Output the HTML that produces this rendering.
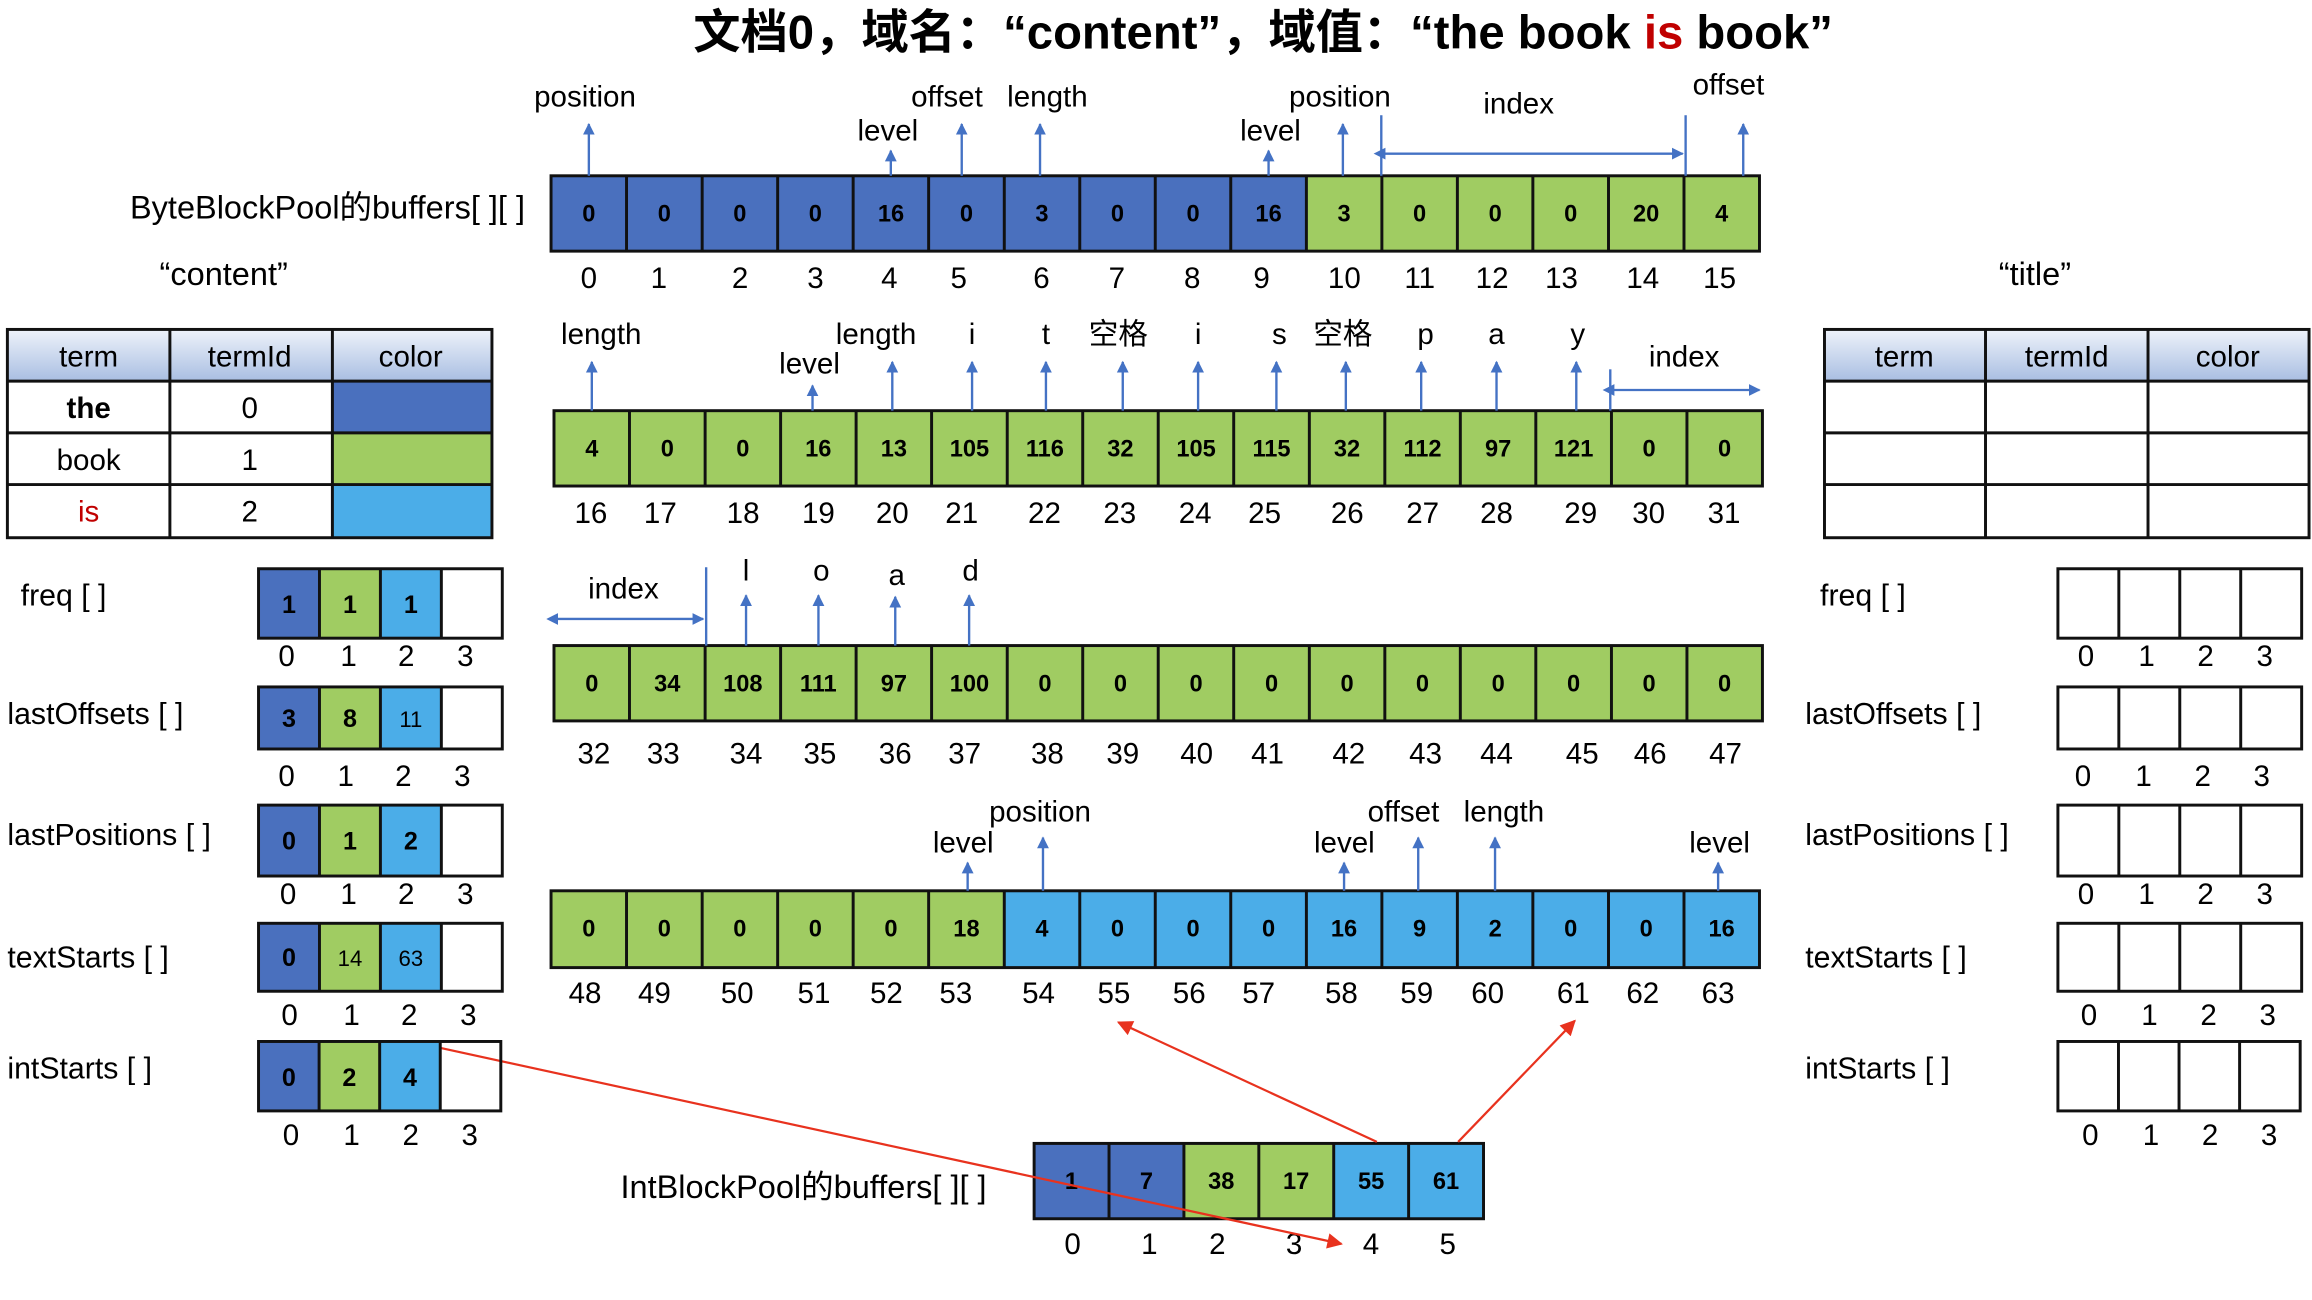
<!DOCTYPE html>
<html><head><meta charset="utf-8">
<style>
html,body{margin:0;padding:0;background:#fff;}
svg{display:block;}
text{font-family:"Liberation Sans","Noto Sans CJK SC",sans-serif;fill:#000;}
.v{font-size:16px;font-weight:bold;text-anchor:middle;}
.vb{font-size:17px;font-weight:bold;text-anchor:middle;}
.i{font-size:20px;text-anchor:middle;}
.l{font-size:20.5px;}
.lb2{font-size:22px;}
.c{font-size:20px;text-anchor:middle;}
.blue{fill:#4A70BE}.green{fill:#A0CC62}.lb{fill:#4BADE8}
.ar{stroke:#4472C4;stroke-width:1.6;fill:none;}
.rl{stroke:#E8321E;stroke-width:1.5;fill:none;}
.cell{fill:none;stroke:#111;stroke-width:2;}
</style></head>
<body>
<svg width="2312" height="1300" viewBox="0 0 1565 880" preserveAspectRatio="none" xmlns="http://www.w3.org/2000/svg">
<defs>
<marker id="ab" viewBox="0 0 10 10" refX="9" refY="5" markerWidth="5" markerHeight="6" orient="auto" markerUnits="strokeWidth"><path d="M0 0L10 5L0 10z" fill="#4472C4"/></marker>
<marker id="as" viewBox="0 0 10 10" refX="1" refY="5" markerWidth="5" markerHeight="6" orient="auto-start-reverse" markerUnits="strokeWidth"><path d="M0 0L10 5L0 10z" fill="#4472C4"/></marker>
<marker id="ar" viewBox="0 0 10 10" refX="9" refY="5" markerWidth="8" markerHeight="7" orient="auto" markerUnits="strokeWidth"><path d="M0 0L10 5L0 10z" fill="#E8321E"/></marker>
<linearGradient id="hg" x1="0" y1="0" x2="0" y2="1"><stop offset="0" stop-color="#EEF2FA"/><stop offset="1" stop-color="#A9BEE2"/></linearGradient>
</defs>

<!-- Title -->
<text x="855" y="33" style="font-size:32px;font-weight:bold;text-anchor:middle">文档0，域名：“content”，域值：“the book <tspan fill="#C00000" style="fill:#C00000">is</tspan> book”</text>

<text class="lb2" x="88" y="148">ByteBlockPool的buffers[ ][ ]</text>
<text x="108" y="193" style="font-size:22px">“content”</text>
<text x="1353" y="193" style="font-size:22px">“title”</text>

<!-- Row 1 -->
<g transform="translate(373,119)">
<rect class="blue" x="0" y="0" width="511.25" height="51"/>
<rect class="green" x="511.25" y="0" width="306.75" height="51"/>
<rect class="cell" x="0" y="0" width="818" height="51"/>
<path class="cell" d="M51.1 0V51M102.3 0V51M153.4 0V51M204.5 0V51M255.6 0V51M306.8 0V51M357.9 0V51M409 0V51M460.1 0V51M511.3 0V51M562.4 0V51M613.5 0V51M664.6 0V51M715.8 0V51M766.9 0V51"/>
<text class="v" x="25.6" y="31">0</text><text class="v" x="76.7" y="31">0</text><text class="v" x="127.8" y="31">0</text><text class="v" x="178.9" y="31">0</text><text class="v" x="230.1" y="31">16</text><text class="v" x="281.2" y="31">0</text><text class="v" x="332.3" y="31">3</text><text class="v" x="383.4" y="31">0</text><text class="v" x="434.6" y="31">0</text><text class="v" x="485.7" y="31">16</text><text class="v" x="536.8" y="31">3</text><text class="v" x="587.9" y="31">0</text><text class="v" x="639.1" y="31">0</text><text class="v" x="690.2" y="31">0</text><text class="v" x="741.3" y="31">20</text><text class="v" x="792.4" y="31">4</text>
<text class="i" x="25.6" y="76">0</text><text class="i" x="73" y="76">1</text><text class="i" x="128" y="76">2</text><text class="i" x="179" y="76">3</text><text class="i" x="229" y="76">4</text><text class="i" x="276" y="76">5</text><text class="i" x="332" y="76">6</text><text class="i" x="383" y="76">7</text><text class="i" x="434" y="76">8</text><text class="i" x="481" y="76">9</text><text class="i" x="537" y="76">10</text><text class="i" x="588" y="76">11</text><text class="i" x="637" y="76">12</text><text class="i" x="684" y="76">13</text><text class="i" x="739" y="76">14</text><text class="i" x="791" y="76">15</text>
</g>
<line class="ar" x1="398.6" y1="119" x2="398.6" y2="84" marker-end="url(#ab)"/>
<line class="ar" x1="603" y1="119" x2="603" y2="102" marker-end="url(#ab)"/>
<line class="ar" x1="651" y1="119" x2="651" y2="84" marker-end="url(#ab)"/>
<line class="ar" x1="704" y1="119" x2="704" y2="84" marker-end="url(#ab)"/>
<line class="ar" x1="858.7" y1="119" x2="858.7" y2="102" marker-end="url(#ab)"/>
<line class="ar" x1="909" y1="119" x2="909" y2="84" marker-end="url(#ab)"/>
<line class="ar" x1="935" y1="78" x2="935" y2="119"/>
<line class="ar" x1="1141" y1="78" x2="1141" y2="119"/>
<line class="ar" x1="937" y1="104" x2="1139" y2="104" marker-start="url(#as)" marker-end="url(#ab)"/>
<line class="ar" x1="1180" y1="119" x2="1180" y2="84" marker-end="url(#ab)"/>
<text class="c" x="396" y="72">position</text>
<text class="c" x="601" y="95">level</text>
<text class="c" x="641" y="72">offset</text>
<text class="c" x="709" y="72">length</text>
<text class="c" x="860" y="95">level</text>
<text class="c" x="907" y="72">position</text>
<text class="c" x="1028" y="77">index</text>
<text class="c" x="1170" y="64">offset</text>

<!-- Row 2 -->
<g transform="translate(375,278)">
<rect class="green" x="0" y="0" width="818" height="51"/>
<rect class="cell" x="0" y="0" width="818" height="51"/>
<path class="cell" d="M51.1 0V51M102.3 0V51M153.4 0V51M204.5 0V51M255.6 0V51M306.8 0V51M357.9 0V51M409 0V51M460.1 0V51M511.3 0V51M562.4 0V51M613.5 0V51M664.6 0V51M715.8 0V51M766.9 0V51"/>
<text class="v" x="25.6" y="31">4</text><text class="v" x="76.7" y="31">0</text><text class="v" x="127.8" y="31">0</text><text class="v" x="178.9" y="31">16</text><text class="v" x="230.1" y="31">13</text><text class="v" x="281.2" y="31">105</text><text class="v" x="332.3" y="31">116</text><text class="v" x="383.4" y="31">32</text><text class="v" x="434.6" y="31">105</text><text class="v" x="485.7" y="31">115</text><text class="v" x="536.8" y="31">32</text><text class="v" x="587.9" y="31">112</text><text class="v" x="639.1" y="31">97</text><text class="v" x="690.2" y="31">121</text><text class="v" x="741.3" y="31">0</text><text class="v" x="792.4" y="31">0</text>
<text class="i" x="25" y="76">16</text><text class="i" x="72" y="76">17</text><text class="i" x="128" y="76">18</text><text class="i" x="179" y="76">19</text><text class="i" x="229" y="76">20</text><text class="i" x="276" y="76">21</text><text class="i" x="332" y="76">22</text><text class="i" x="383" y="76">23</text><text class="i" x="434" y="76">24</text><text class="i" x="481" y="76">25</text><text class="i" x="537" y="76">26</text><text class="i" x="588" y="76">27</text><text class="i" x="638" y="76">28</text><text class="i" x="695" y="76">29</text><text class="i" x="741" y="76">30</text><text class="i" x="792" y="76">31</text>
</g>
<line class="ar" x1="400.6" y1="278" x2="400.6" y2="245" marker-end="url(#ab)"/>
<line class="ar" x1="550" y1="278" x2="550" y2="261" marker-end="url(#ab)"/>
<line class="ar" x1="604" y1="278" x2="604" y2="245" marker-end="url(#ab)"/>
<line class="ar" x1="658" y1="278" x2="658" y2="245" marker-end="url(#ab)"/>
<line class="ar" x1="708" y1="278" x2="708" y2="245" marker-end="url(#ab)"/>
<line class="ar" x1="760" y1="278" x2="760" y2="245" marker-end="url(#ab)"/>
<line class="ar" x1="811" y1="278" x2="811" y2="245" marker-end="url(#ab)"/>
<line class="ar" x1="864" y1="278" x2="864" y2="245" marker-end="url(#ab)"/>
<line class="ar" x1="911" y1="278" x2="911" y2="245" marker-end="url(#ab)"/>
<line class="ar" x1="962" y1="278" x2="962" y2="245" marker-end="url(#ab)"/>
<line class="ar" x1="1013" y1="278" x2="1013" y2="245" marker-end="url(#ab)"/>
<line class="ar" x1="1067" y1="278" x2="1067" y2="245" marker-end="url(#ab)"/>
<line class="ar" x1="1090" y1="250" x2="1090" y2="278"/>
<line class="ar" x1="1092" y1="264" x2="1191" y2="264" marker-start="url(#as)" marker-end="url(#ab)"/>
<text class="c" x="407" y="233">length</text>
<text class="c" x="548" y="253">level</text>
<text class="c" x="593" y="233">length</text>
<text class="c" x="658" y="233">i</text>
<text class="c" x="708" y="233">t</text>
<text class="c" x="757" y="233">空格</text>
<text class="c" x="811" y="233">i</text>
<text class="c" x="866" y="233">s</text>
<text class="c" x="909" y="233">空格</text>
<text class="c" x="965" y="233">p</text>
<text class="c" x="1013" y="233">a</text>
<text class="c" x="1068" y="233">y</text>
<text class="c" x="1140" y="248">index</text>

<!-- Row 3 -->
<g transform="translate(375,437)">
<rect class="green" x="0" y="0" width="818" height="51"/>
<rect class="cell" x="0" y="0" width="818" height="51"/>
<path class="cell" d="M51.1 0V51M102.3 0V51M153.4 0V51M204.5 0V51M255.6 0V51M306.8 0V51M357.9 0V51M409 0V51M460.1 0V51M511.3 0V51M562.4 0V51M613.5 0V51M664.6 0V51M715.8 0V51M766.9 0V51"/>
<text class="v" x="25.6" y="31">0</text><text class="v" x="76.7" y="31">34</text><text class="v" x="127.8" y="31">108</text><text class="v" x="178.9" y="31">111</text><text class="v" x="230.1" y="31">97</text><text class="v" x="281.2" y="31">100</text><text class="v" x="332.3" y="31">0</text><text class="v" x="383.4" y="31">0</text><text class="v" x="434.6" y="31">0</text><text class="v" x="485.7" y="31">0</text><text class="v" x="536.8" y="31">0</text><text class="v" x="587.9" y="31">0</text><text class="v" x="639.1" y="31">0</text><text class="v" x="690.2" y="31">0</text><text class="v" x="741.3" y="31">0</text><text class="v" x="792.4" y="31">0</text>
<text class="i" x="27" y="80">32</text><text class="i" x="74" y="80">33</text><text class="i" x="130" y="80">34</text><text class="i" x="180" y="80">35</text><text class="i" x="231" y="80">36</text><text class="i" x="278" y="80">37</text><text class="i" x="334" y="80">38</text><text class="i" x="385" y="80">39</text><text class="i" x="435" y="80">40</text><text class="i" x="483" y="80">41</text><text class="i" x="538" y="80">42</text><text class="i" x="590" y="80">43</text><text class="i" x="638" y="80">44</text><text class="i" x="696" y="80">45</text><text class="i" x="742" y="80">46</text><text class="i" x="793" y="80">47</text>
</g>
<line class="ar" x1="478" y1="384" x2="478" y2="437"/>
<line class="ar" x1="377" y1="419" x2="476" y2="419" marker-start="url(#as)" marker-end="url(#ab)"/>
<line class="ar" x1="505" y1="437" x2="505" y2="403" marker-end="url(#ab)"/>
<line class="ar" x1="554" y1="437" x2="554" y2="403" marker-end="url(#ab)"/>
<line class="ar" x1="606" y1="437" x2="606" y2="404" marker-end="url(#ab)"/>
<line class="ar" x1="656" y1="437" x2="656" y2="403" marker-end="url(#ab)"/>
<text class="c" x="422" y="405">index</text>
<text class="c" x="505" y="393">l</text>
<text class="c" x="556" y="393">o</text>
<text class="c" x="607" y="396">a</text>
<text class="c" x="657" y="393">d</text>

<!-- Row 4 -->
<g transform="translate(373,603)">
<rect class="green" x="0" y="0" width="306.75" height="52"/>
<rect class="lb" x="306.75" y="0" width="511.25" height="52"/>
<rect class="cell" x="0" y="0" width="818" height="52"/>
<path class="cell" d="M51.1 0V52M102.3 0V52M153.4 0V52M204.5 0V52M255.6 0V52M306.8 0V52M357.9 0V52M409 0V52M460.1 0V52M511.3 0V52M562.4 0V52M613.5 0V52M664.6 0V52M715.8 0V52M766.9 0V52"/>
<text class="v" x="25.6" y="31">0</text><text class="v" x="76.7" y="31">0</text><text class="v" x="127.8" y="31">0</text><text class="v" x="178.9" y="31">0</text><text class="v" x="230.1" y="31">0</text><text class="v" x="281.2" y="31">18</text><text class="v" x="332.3" y="31">4</text><text class="v" x="383.4" y="31">0</text><text class="v" x="434.6" y="31">0</text><text class="v" x="485.7" y="31">0</text><text class="v" x="536.8" y="31">16</text><text class="v" x="587.9" y="31">9</text><text class="v" x="639.1" y="31">2</text><text class="v" x="690.2" y="31">0</text><text class="v" x="741.3" y="31">0</text><text class="v" x="792.4" y="31">16</text>
<text class="i" x="23" y="76">48</text><text class="i" x="70" y="76">49</text><text class="i" x="126" y="76">50</text><text class="i" x="178" y="76">51</text><text class="i" x="227" y="76">52</text><text class="i" x="274" y="76">53</text><text class="i" x="330" y="76">54</text><text class="i" x="381" y="76">55</text><text class="i" x="432" y="76">56</text><text class="i" x="479" y="76">57</text><text class="i" x="535" y="76">58</text><text class="i" x="586" y="76">59</text><text class="i" x="634" y="76">60</text><text class="i" x="692" y="76">61</text><text class="i" x="739" y="76">62</text><text class="i" x="790" y="76">63</text>
</g>
<line class="ar" x1="655" y1="603" x2="655" y2="584" marker-end="url(#ab)"/>
<line class="ar" x1="706" y1="603" x2="706" y2="567" marker-end="url(#ab)"/>
<line class="ar" x1="909.8" y1="603" x2="909.8" y2="584" marker-end="url(#ab)"/>
<line class="ar" x1="960" y1="603" x2="960" y2="567" marker-end="url(#ab)"/>
<line class="ar" x1="1012" y1="603" x2="1012" y2="567" marker-end="url(#ab)"/>
<line class="ar" x1="1163" y1="603" x2="1163" y2="584" marker-end="url(#ab)"/>
<text class="c" x="652" y="577">level</text>
<text class="c" x="704" y="556">position</text>
<text class="c" x="910" y="577">level</text>
<text class="c" x="950" y="556">offset</text>
<text class="c" x="1018" y="556">length</text>
<text class="c" x="1164" y="577">level</text>

<!-- IntBlockPool -->
<text class="lb2" x="420" y="811">IntBlockPool的buffers[ ][ ]</text>
<g transform="translate(700,774)">
<rect class="blue" x="0" y="0" width="101.4" height="51"/>
<rect class="green" x="101.4" y="0" width="101.4" height="51"/>
<rect class="lb" x="202.8" y="0" width="101.4" height="51"/>
<rect class="cell" x="0" y="0" width="304.2" height="51"/>
<path class="cell" d="M50.7 0V51M101.4 0V51M152.1 0V51M202.8 0V51M253.5 0V51"/>
<text class="v" x="25.3" y="31">1</text><text class="v" x="76" y="31">7</text><text class="v" x="126.7" y="31">38</text><text class="v" x="177.4" y="31">17</text><text class="v" x="228.1" y="31">55</text><text class="v" x="278.8" y="31">61</text>
</g>
<text class="i" x="726" y="849">0</text><text class="i" x="778" y="849">1</text><text class="i" x="824" y="849">2</text><text class="i" x="876" y="849">3</text><text class="i" x="928" y="849">4</text><text class="i" x="980" y="849">5</text>

<!-- red lines -->
<line class="rl" x1="932" y1="773" x2="757" y2="692" marker-end="url(#ar)"/>
<line class="rl" x1="987" y1="773" x2="1066" y2="691" marker-end="url(#ar)"/>
<line class="rl" x1="278" y1="705" x2="908" y2="842" marker-end="url(#ar)"/>

<!-- Left table -->
<rect x="5" y="223" width="328" height="35" fill="url(#hg)"/>
<rect class="blue" x="225" y="258" width="108" height="35"/>
<rect class="green" x="225" y="293" width="108" height="35"/>
<rect class="lb" x="225" y="328" width="108" height="36"/>
<rect class="cell" x="5" y="223" width="328" height="141"/>
<path class="cell" d="M115 223V364M225 223V364M5 258H333M5 293H333M5 328H333"/>
<text class="c" x="60" y="248">term</text><text class="c" x="169" y="248">termId</text><text class="c" x="278" y="248">color</text>
<text class="c" x="60" y="283" style="font-weight:bold">the</text><text class="c" x="169" y="283">0</text>
<text class="c" x="60" y="318">book</text><text class="c" x="169" y="318">1</text>
<text class="c" x="60" y="353" style="fill:#C00000">is</text><text class="c" x="169" y="353">2</text>

<!-- Right table -->
<rect x="1235" y="223" width="328" height="35" fill="url(#hg)"/>
<rect class="cell" x="1235" y="223" width="328" height="141"/>
<path class="cell" d="M1344 223V364M1454 223V364M1235 258H1563M1235 293H1563M1235 328H1563"/>
<text class="c" x="1289" y="248">term</text><text class="c" x="1399" y="248">termId</text><text class="c" x="1508" y="248">color</text>

<!-- Left arrays -->
<text class="l" x="14" y="410">freq [ ]</text>
<g transform="translate(175,385)">
<rect class="blue" x="0" y="0" width="41.25" height="47"/><rect class="green" x="41.25" y="0" width="41.25" height="47"/><rect class="lb" x="82.5" y="0" width="41.25" height="47"/>
<rect class="cell" x="0" y="0" width="165" height="47"/><path class="cell" d="M41.25 0V47M82.5 0V47M123.75 0V47"/>
<text class="vb" x="20.6" y="30">1</text><text class="vb" x="61.9" y="30">1</text><text class="vb" x="103.1" y="30">1</text>
</g>
<text class="i" x="194" y="451">0</text><text class="i" x="236" y="451">1</text><text class="i" x="275" y="451">2</text><text class="i" x="315" y="451">3</text>

<text class="l" x="5" y="490">lastOffsets [ ]</text>
<g transform="translate(175,465)">
<rect class="blue" x="0" y="0" width="41.25" height="42"/><rect class="green" x="41.25" y="0" width="41.25" height="42"/><rect class="lb" x="82.5" y="0" width="41.25" height="42"/>
<rect class="cell" x="0" y="0" width="165" height="42"/><path class="cell" d="M41.25 0V42M82.5 0V42M123.75 0V42"/>
<text class="vb" x="20.6" y="27">3</text><text class="vb" x="61.9" y="27">8</text><text x="103.1" y="27" style="font-size:15px;text-anchor:middle">11</text>
</g>
<text class="i" x="194" y="532">0</text><text class="i" x="234" y="532">1</text><text class="i" x="273" y="532">2</text><text class="i" x="313" y="532">3</text>

<text class="l" x="5" y="572">lastPositions [ ]</text>
<g transform="translate(175,545)">
<rect class="blue" x="0" y="0" width="41.25" height="48"/><rect class="green" x="41.25" y="0" width="41.25" height="48"/><rect class="lb" x="82.5" y="0" width="41.25" height="48"/>
<rect class="cell" x="0" y="0" width="165" height="48"/><path class="cell" d="M41.25 0V48M82.5 0V48M123.75 0V48"/>
<text class="vb" x="20.6" y="30">0</text><text class="vb" x="61.9" y="30">1</text><text class="vb" x="103.1" y="30">2</text>
</g>
<text class="i" x="195" y="612">0</text><text class="i" x="236" y="612">1</text><text class="i" x="275" y="612">2</text><text class="i" x="315" y="612">3</text>

<text class="l" x="5" y="655">textStarts [ ]</text>
<g transform="translate(175,625)">
<rect class="blue" x="0" y="0" width="41.25" height="46"/><rect class="green" x="41.25" y="0" width="41.25" height="46"/><rect class="lb" x="82.5" y="0" width="41.25" height="46"/>
<rect class="cell" x="0" y="0" width="165" height="46"/><path class="cell" d="M41.25 0V46M82.5 0V46M123.75 0V46"/>
<text class="vb" x="20.6" y="29">0</text><text x="61.9" y="29" style="font-size:15px;text-anchor:middle">14</text><text x="103.1" y="29" style="font-size:15px;text-anchor:middle">63</text>
</g>
<text class="i" x="196" y="694">0</text><text class="i" x="238" y="694">1</text><text class="i" x="277" y="694">2</text><text class="i" x="317" y="694">3</text>

<text class="l" x="5" y="730">intStarts [ ]</text>
<g transform="translate(175,705)">
<rect class="blue" x="0" y="0" width="41" height="47"/><rect class="green" x="41" y="0" width="41" height="47"/><rect class="lb" x="82" y="0" width="41" height="47"/>
<rect class="cell" x="0" y="0" width="164" height="47"/><path class="cell" d="M41 0V47M82 0V47M123 0V47"/>
<text class="vb" x="20.5" y="30">0</text><text class="vb" x="61.5" y="30">2</text><text class="vb" x="102.5" y="30">4</text>
</g>
<text class="i" x="197" y="775">0</text><text class="i" x="238" y="775">1</text><text class="i" x="278" y="775">2</text><text class="i" x="318" y="775">3</text>

<!-- Right arrays -->
<text class="l" x="1232" y="410">freq [ ]</text>
<g transform="translate(1393,385)"><rect class="cell" x="0" y="0" width="165" height="47"/><path class="cell" d="M41.25 0V47M82.5 0V47M123.75 0V47"/></g>
<text class="i" x="1412" y="451">0</text><text class="i" x="1453" y="451">1</text><text class="i" x="1493" y="451">2</text><text class="i" x="1533" y="451">3</text>

<text class="l" x="1222" y="490">lastOffsets [ ]</text>
<g transform="translate(1393,465)"><rect class="cell" x="0" y="0" width="165" height="42"/><path class="cell" d="M41.25 0V42M82.5 0V42M123.75 0V42"/></g>
<text class="i" x="1410" y="532">0</text><text class="i" x="1451" y="532">1</text><text class="i" x="1491" y="532">2</text><text class="i" x="1531" y="532">3</text>

<text class="l" x="1222" y="572">lastPositions [ ]</text>
<g transform="translate(1393,545)"><rect class="cell" x="0" y="0" width="165" height="48"/><path class="cell" d="M41.25 0V48M82.5 0V48M123.75 0V48"/></g>
<text class="i" x="1412" y="612">0</text><text class="i" x="1453" y="612">1</text><text class="i" x="1493" y="612">2</text><text class="i" x="1533" y="612">3</text>

<text class="l" x="1222" y="655">textStarts [ ]</text>
<g transform="translate(1393,625)"><rect class="cell" x="0" y="0" width="165" height="46"/><path class="cell" d="M41.25 0V46M82.5 0V46M123.75 0V46"/></g>
<text class="i" x="1414" y="694">0</text><text class="i" x="1455" y="694">1</text><text class="i" x="1495" y="694">2</text><text class="i" x="1535" y="694">3</text>

<text class="l" x="1222" y="730">intStarts [ ]</text>
<g transform="translate(1393,705)"><rect class="cell" x="0" y="0" width="164" height="47"/><path class="cell" d="M41 0V47M82 0V47M123 0V47"/></g>
<text class="i" x="1415" y="775">0</text><text class="i" x="1456" y="775">1</text><text class="i" x="1496" y="775">2</text><text class="i" x="1536" y="775">3</text>
</svg>
</body></html>
